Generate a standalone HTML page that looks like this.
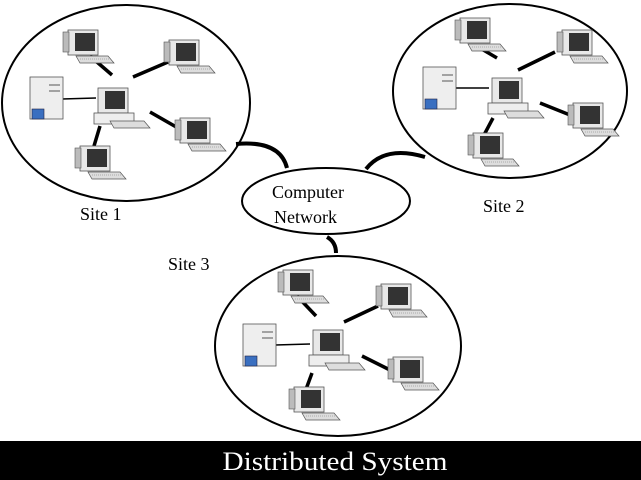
<!DOCTYPE html>
<html><head><style>
html,body{margin:0;padding:0;background:#fff;}
svg{display:block;}
text{font-family:"Liberation Serif",serif;}
</style></head><body>
<svg width="641" height="480" viewBox="0 0 641 480" xmlns="http://www.w3.org/2000/svg">
<defs>
<g id="pc">
  <rect x="0" y="0" width="30" height="25" fill="#e8e8e8" stroke="#555" stroke-width="0.8"/>
  <rect x="-5" y="2" width="6" height="20" fill="#bbb" stroke="#555" stroke-width="0.6"/>
  <rect x="7" y="3" width="20" height="18" fill="#333"/>
  <polygon points="8,26 40,26 46,33 12,33" fill="#ddd" stroke="#555" stroke-width="0.7"/>
  <line x1="12" y1="29" x2="42" y2="29" stroke="#999" stroke-width="0.8" stroke-dasharray="1,1"/>
</g>
<g id="cpc">
  <rect x="0" y="0" width="30" height="25" fill="#e8e8e8" stroke="#555" stroke-width="0.8"/>
  <rect x="7" y="3" width="20" height="18" fill="#333"/>
  <rect x="-4" y="25" width="40" height="11" fill="#eee" stroke="#555" stroke-width="0.8"/>
  <polygon points="12,33 46,33 52,40 16,40" fill="#ddd" stroke="#555" stroke-width="0.7"/>
</g>
<g id="srv">
  <rect x="0" y="0" width="33" height="42" fill="#eee" stroke="#555" stroke-width="0.8"/>
  <line x1="19" y1="8" x2="30" y2="8" stroke="#555"/>
  <line x1="19" y1="14" x2="30" y2="14" stroke="#555"/>
  <rect x="2" y="32" width="12" height="10" fill="#3a6fc0" stroke="#224" stroke-width="0.6"/>
</g>
</defs>
<g fill="none" stroke="#000" stroke-width="2">
  <ellipse cx="126" cy="103" rx="124" ry="98"/>
  <ellipse cx="510" cy="91" rx="117" ry="87"/>
  <ellipse cx="338" cy="346" rx="123" ry="90"/>
  <ellipse cx="326" cy="201" rx="84" ry="33"/>
</g>
<g fill="none" stroke="#000" stroke-width="4">
  <path d="M236,144 Q280,140 287,168"/>
  <path d="M366,169 Q385,145 425,157"/>
  <path d="M327,237 Q336,242 336,253"/>
</g>
<g stroke="#000" stroke-width="3.5">
  <line x1="90" y1="56" x2="112" y2="75"/>
  <line x1="133" y1="77" x2="168" y2="62"/>
  <line x1="150" y1="112" x2="178" y2="128"/>
  <line x1="100" y1="126" x2="94" y2="146"/>
  <line x1="497" y1="58" x2="480" y2="48"/>
  <line x1="518" y1="70" x2="555" y2="52"/>
  <line x1="540" y1="103" x2="570" y2="115"/>
  <line x1="493" y1="118" x2="484" y2="135"/>
  <line x1="297" y1="296" x2="316" y2="316"/>
  <line x1="344" y1="322" x2="378" y2="306"/>
  <line x1="362" y1="356" x2="390" y2="370"/>
  <line x1="312" y1="373" x2="305" y2="392"/>
</g>
<g stroke="#000" stroke-width="1.5">
  <line x1="62" y1="99" x2="96" y2="98"/>
  <line x1="455" y1="88" x2="489" y2="88"/>
  <line x1="275" y1="345" x2="310" y2="344"/>
</g>
<use href="#pc" x="68" y="30"/><use href="#pc" x="169" y="40"/><use href="#pc" x="180" y="118"/><use href="#pc" x="80" y="146"/>
<use href="#cpc" x="98" y="88"/><use href="#srv" x="30" y="77"/>
<use href="#pc" x="460" y="18"/><use href="#pc" x="562" y="30"/><use href="#pc" x="573" y="103"/><use href="#pc" x="473" y="133"/>
<use href="#cpc" x="492" y="78"/><use href="#srv" x="423" y="67"/>
<use href="#pc" x="283" y="270"/><use href="#pc" x="381" y="284"/><use href="#pc" x="393" y="357"/><use href="#pc" x="294" y="387"/>
<use href="#cpc" x="313" y="330"/><use href="#srv" x="243" y="324"/>
<g font-size="18" fill="#000">
  <text x="272" y="198">Computer</text>
  <text x="274" y="223">Network</text>
  <text x="80" y="220">Site 1</text>
  <text x="483" y="212">Site 2</text>
  <text x="168" y="270">Site 3</text>
</g>
<rect x="0" y="441" width="641" height="39" fill="#000"/>
<text x="335" y="470" font-size="26" fill="#fff" text-anchor="middle" textLength="225" lengthAdjust="spacingAndGlyphs">Distributed System</text>
</svg>
</body></html>
